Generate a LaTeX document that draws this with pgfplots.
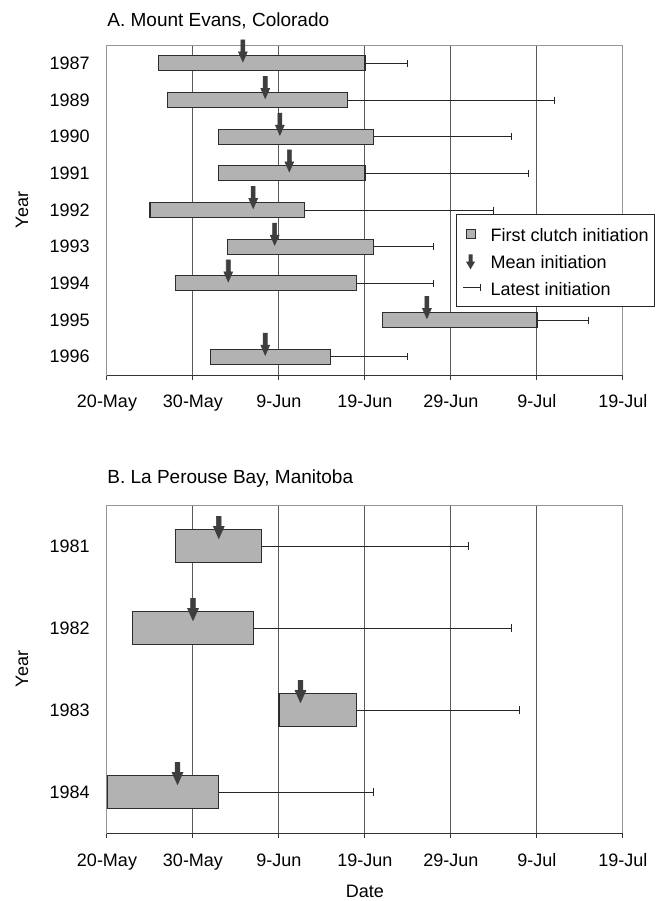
\documentclass[border=0pt]{standalone}
\usepackage{fontspec}
\setmainfont{Liberation Sans}
\usepackage{pgfplots}
\usepackage{pgfplotstable}
\pgfplotsset{compat=1.18}

\definecolor{barfill}{RGB}{178,178,178}
\definecolor{baredge}{RGB}{45,45,45}
\definecolor{arrowc}{RGB}{62,62,62}
\definecolor{gridc}{RGB}{90,90,90}
\definecolor{framec}{RGB}{150,150,150}

% days after 20 May
\pgfplotstableread{
row year start end mean latest
1 1987 6 30 15.8 35
2 1989 7 28 18.4 52
3 1990 13 31 20.1 47
4 1991 13 30 21.2 49
5 1992 5 23 17.0 45
6 1993 14 31 19.5 38
7 1994 8 29 14.1 38
8 1995 32 50 37.2 56
9 1996 12 26 18.4 35
}\tableA

\pgfplotstableread{
row year start end mean latest
1 1981 8 18 13.0 42
2 1982 3 17 10.0 47
3 1983 20 29 22.5 48
4 1984 0 13 8.2 31
}\tableB

\pgfdeclareplotmark{meanarrowA}{%
  \pgfpathmoveto{\pgfqpoint{-1pt}{11.75pt}}%
  \pgfpathlineto{\pgfqpoint{1pt}{11.75pt}}%
  \pgfpathlineto{\pgfqpoint{1pt}{5.75pt}}%
  \pgfpathlineto{\pgfqpoint{2.2pt}{5.75pt}}%
  \pgfpathlineto{\pgfqpoint{0pt}{0.75pt}}%
  \pgfpathlineto{\pgfqpoint{-2.2pt}{5.75pt}}%
  \pgfpathlineto{\pgfqpoint{-1pt}{5.75pt}}%
  \pgfpathclose
  \pgfusepathqfillstroke
}
\pgfdeclareplotmark{meanarrowB}{%
  \pgfpathmoveto{\pgfqpoint{-1.2pt}{14.75pt}}%
  \pgfpathlineto{\pgfqpoint{1.2pt}{14.75pt}}%
  \pgfpathlineto{\pgfqpoint{1.2pt}{9.75pt}}%
  \pgfpathlineto{\pgfqpoint{2.7pt}{9.75pt}}%
  \pgfpathlineto{\pgfqpoint{0pt}{3.75pt}}%
  \pgfpathlineto{\pgfqpoint{-2.7pt}{9.75pt}}%
  \pgfpathlineto{\pgfqpoint{-1.2pt}{9.75pt}}%
  \pgfpathclose
  \pgfusepathqfillstroke
}

\pgfplotsset{
  chartbase/.style={
    scale only axis, width=258pt,
    xmin=0, xmax=60, y dir=reverse,
    xtick={0,10,...,60},
    xticklabels={20-May,30-May,9-Jun,19-Jun,29-Jun,9-Jul,19-Jul},
    minor xtick={10,20,30,40,50},
    xminorgrids, minor grid style={gridc, line width=0.5pt},
    minor tick length=0pt,
    xtick align=outside, xtick pos=left,
    major tick length=2.5pt,
    xtick style={black!80, line width=0.5pt},
    ytick style={draw=none},
    axis line style={framec, line width=0.5pt},
    xticklabel style={anchor=base, inner sep=0pt, yshift=-14pt},
    yticklabel style={anchor=east, inner sep=0pt, xshift=-8.5pt},
    ylabel={Year},
    ylabel style={at={(axis description cs:-0.1647,0.5)}, anchor=center, inner sep=0pt},
    title style={at={(axis description cs:0,1)}, anchor=base west, inner sep=0pt, font=\fontsize{9.5}{11}\selectfont},
  },
  overlay/.style={
    scale only axis, width=258pt,
    xmin=0, xmax=60, y dir=reverse,
    hide axis, clip=false,
  },
  whisk/.style={forget plot, draw=none, mark=none,
    error bars/.cd, x dir=plus, x explicit, error mark=|,
    error bar style={draw=black!85, line width=0.5pt},
    error mark options={draw=black!85, mark size=#1, line width=0.5pt}},
}

\begin{document}
\fontsize{9}{11}\selectfont
\begin{tikzpicture}
\path[use as bounding box] (0,0) rectangle (331.5pt,450.5pt);

% ---------- Panel A ----------
\begin{axis}[chartbase, at={(53.5pt,263pt)}, anchor=south west, height=165pt,
  ymin=0.5, ymax=9.5, ytick={1,...,9},
  yticklabels={1987,1989,1990,1991,1992,1993,1994,1995,1996},
  xbar stacked, bar width=7.5pt,
  title={A. Mount Evans, Colorado}, title style={yshift=3.5pt}]
\addplot[draw=none, fill=none] table[x=start, y=row]{\tableA};
\addplot[fill=barfill, draw=baredge, line width=0.6pt] table[x expr=\thisrow{end}-\thisrow{start}, y=row]{\tableA};
\draw[black!80, line width=0.5pt] (axis description cs:0,0) -- (axis description cs:1,0);
\end{axis}

\begin{axis}[overlay, at={(53.5pt,263pt)}, anchor=south west, height=165pt,
  ymin=0.5, ymax=9.5,
  legend style={at={(axis description cs:0.6764,0.4879)}, anchor=north west,
    draw=black!85, line width=0.5pt, fill=white,
    inner xsep=3pt, inner ysep=5pt, row sep=4.5pt, column sep=5pt,
    nodes={inner sep=0pt, text height=7pt, text depth=0pt},
    legend cell align=left, font=\fontsize{9}{11}\selectfont}]
\addplot[whisk=1.75pt]
  table[x=end, y=row, x error expr=\thisrow{latest}-\thisrow{end}]{\tableA};
\addplot[forget plot, only marks, mark=meanarrowA,
  mark options={fill=arrowc, draw=arrowc, line width=0.3pt}]
  table[x=mean, y=row]{\tableA};
\addlegendimage{legend image code/.code={
  \path[draw=none, fill=none] (0pt,-4pt) rectangle (8.5pt,5pt);
  \draw[fill=barfill, draw=baredge, line width=0.5pt] (1.5pt,-1.8pt) rectangle (6pt,2.7pt);}}
\addlegendentry{First clutch initiation}
\addlegendimage{legend image code/.code={
  \path[draw=none, fill=none] (0pt,-4pt) rectangle (8.5pt,5pt);
  \fill[arrowc, draw=none] (2.75pt,3.6pt) -- (4.75pt,3.6pt) -- (4.75pt,-0.1pt) -- (6pt,-0.1pt) -- (3.75pt,-3.9pt) -- (1.5pt,-0.1pt) -- (2.75pt,-0.1pt) -- cycle;}}
\addlegendentry{Mean initiation}
\addlegendimage{legend image code/.code={
  \path[draw=none, fill=none] (0pt,-4pt) rectangle (8.5pt,5pt);
  \draw[black!85, line width=0.5pt, fill=none] (0pt,0.5pt) -- (8.5pt,0.5pt);
  \draw[black!85, line width=0.5pt, fill=none] (8.5pt,-1.2pt) -- (8.5pt,2.2pt);}}
\addlegendentry{Latest initiation}
\end{axis}

% ---------- Panel B ----------
\begin{axis}[chartbase, at={(53.5pt,34pt)}, anchor=south west, height=164pt,
  ymin=0.5, ymax=4.5, ytick={1,...,4},
  yticklabels={1981,1982,1983,1984},
  xbar stacked, bar width=16.5pt,
  title={B. La Perouse Bay, Manitoba}, title style={yshift=5pt},
  xlabel={Date},
  xlabel style={at={(axis description cs:0.5,0)}, anchor=base, inner sep=0pt, yshift=-32pt}]
\addplot[draw=none, fill=none] table[x=start, y=row]{\tableB};
\addplot[fill=barfill, draw=baredge, line width=0.6pt] table[x expr=\thisrow{end}-\thisrow{start}, y=row]{\tableB};
\draw[black!80, line width=0.5pt] (axis description cs:0,0) -- (axis description cs:1,0);
\end{axis}

\begin{axis}[overlay, at={(53.5pt,34pt)}, anchor=south west, height=164pt,
  ymin=0.5, ymax=4.5]
\addplot[whisk=2pt]
  table[x=end, y=row, x error expr=\thisrow{latest}-\thisrow{end}]{\tableB};
\addplot[forget plot, only marks, mark=meanarrowB,
  mark options={fill=arrowc, draw=arrowc, line width=0.3pt}]
  table[x=mean, y=row]{\tableB};
\end{axis}
\end{tikzpicture}
\end{document}
